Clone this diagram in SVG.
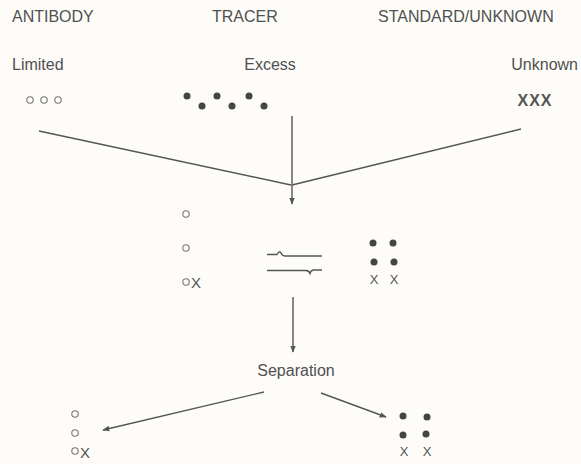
<svg xmlns="http://www.w3.org/2000/svg" width="581" height="464" viewBox="0 0 581 464">
<defs>
<style>
.t{font-family:"Liberation Sans",Arial,sans-serif;font-size:16px;fill:#505050}
.ln{stroke:#555;stroke-width:1.4;fill:none}
.oc{fill:none;stroke:#777;stroke-width:1.1}
.dot{fill:#444}
.x{font-family:"Liberation Sans",Arial,sans-serif;fill:#555}
</style>
<marker id="ah" viewBox="0 0 10 10" refX="9" refY="5" markerWidth="7" markerHeight="7" markerUnits="userSpaceOnUse" orient="auto">
<path d="M0,1 L10,5 L0,9 Z" fill="#555"/>
</marker>
</defs>
<rect width="581" height="464" fill="#fdfcf8"/>

<g id="headers">
<text class="t" x="12" y="22">ANTIBODY</text>
<text class="t" x="212" y="22">TRACER</text>
<text class="t" x="378" y="22">STANDARD/UNKNOWN</text>
</g>

<g id="antibody">
<text class="t" x="12" y="70">Limited</text>
<circle class="oc" cx="30" cy="100" r="3.2"/>
<circle class="oc" cx="44" cy="100" r="3.2"/>
<circle class="oc" cx="58" cy="100" r="3.2"/>
</g>

<g id="tracer">
<text class="t" x="270" y="70" text-anchor="middle">Excess</text>
<circle class="dot" cx="187" cy="96" r="3.5"/>
<circle class="dot" cx="202" cy="106" r="3.5"/>
<circle class="dot" cx="217" cy="96" r="3.5"/>
<circle class="dot" cx="232" cy="106" r="3.5"/>
<circle class="dot" cx="249" cy="96" r="3.5"/>
<circle class="dot" cx="264" cy="106" r="3.5"/>
</g>

<g id="unknown">
<text class="t" x="578" y="70" text-anchor="end">Unknown</text>
<text class="x" x="535" y="106" text-anchor="middle" font-size="16" font-weight="bold" letter-spacing="1">XXX</text>
</g>

<g id="mixture-left">
<circle class="oc" cx="186" cy="214" r="3.2"/>
<circle class="oc" cx="186" cy="248" r="3.2"/>
<circle class="oc" cx="186" cy="282" r="3.2"/>
<text class="x" x="191" y="288" font-size="15">X</text>
</g>

<g id="equilibrium">
<path class="ln" d="M267,254.5 L277,254.5 Q279.5,250 281,253 Q282,256 285,256 L322,256"/>
<path class="ln" d="M267,270.5 L306,270.5 Q309,270.5 310,273.5 Q311,270 314,270 L322,270"/>
</g>

<g id="mixture-right">
<circle class="dot" cx="373" cy="243" r="3.5"/>
<circle class="dot" cx="393" cy="243" r="3.5"/>
<circle class="dot" cx="374" cy="262" r="3.5"/>
<circle class="dot" cx="394" cy="262" r="3.5"/>
<text class="x" x="374" y="284" font-size="13" text-anchor="middle">X</text>
<text class="x" x="394" y="284" font-size="13" text-anchor="middle">X</text>
</g>

<g id="separation">
<text class="t" x="296" y="376" text-anchor="middle">Separation</text>
</g>

<g id="bound">
<circle class="oc" cx="75" cy="414" r="3.2"/>
<circle class="oc" cx="75" cy="433" r="3.2"/>
<circle class="oc" cx="75" cy="451" r="3.2"/>
<text class="x" x="80" y="458" font-size="15">X</text>
</g>

<g id="free">
<circle class="dot" cx="403" cy="416" r="3.5"/>
<circle class="dot" cx="427" cy="417" r="3.5"/>
<circle class="dot" cx="403" cy="435" r="3.5"/>
<circle class="dot" cx="426" cy="434" r="3.5"/>
<text class="x" x="404" y="456" font-size="13" text-anchor="middle">X</text>
<text class="x" x="427" y="456" font-size="13" text-anchor="middle">X</text>
</g>

<g id="connectors">
<line class="ln" x1="39" y1="131" x2="291" y2="185"/>
<line class="ln" x1="292" y1="185" x2="521" y2="129"/>
<line class="ln" x1="292" y1="116" x2="292" y2="204" marker-end="url(#ah)"/>
<line class="ln" x1="293" y1="297" x2="293" y2="352" marker-end="url(#ah)"/>
<line class="ln" x1="264" y1="392" x2="103" y2="430" marker-end="url(#ah)"/>
<line class="ln" x1="321" y1="393" x2="386" y2="417" marker-end="url(#ah)"/>
</g>
</svg>
